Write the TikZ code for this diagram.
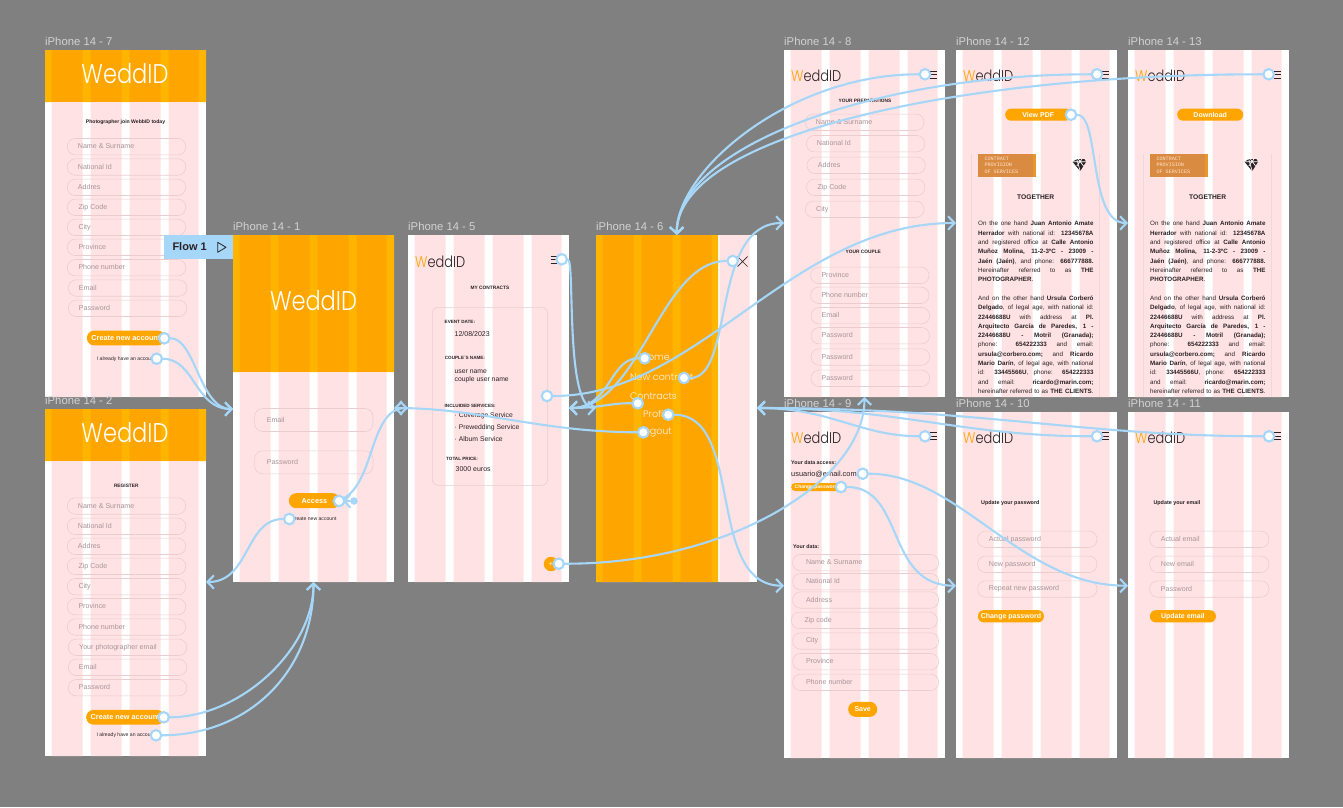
\documentclass[tikz,border=0pt]{standalone}
\usepackage{fontspec}
\usetikzlibrary{arrows.meta}
\newfontfamily\ui{Liberation Sans}
\newfontfamily\cmono{Liberation Mono}
\newfontfamily\logof{Poppins Light}
\definecolor{bgg}{HTML}{808080}
\definecolor{pinkc}{HTML}{FFE3E4}
\definecolor{orangec}{HTML}{FFA500}
\definecolor{orangel}{HTML}{FFB400}
\definecolor{flowblue}{HTML}{A6D6F8}
\definecolor{fieldline}{HTML}{EBCDD0}
\definecolor{fieldtxt}{HTML}{A8949A}
\definecolor{inkc}{HTML}{2A2226}
\definecolor{framelbl}{HTML}{D2D2D2}
\definecolor{stampc}{HTML}{DA8B42}
\pgfdeclarelayer{fg}
\pgfsetlayers{main,fg}
\newcounter{nd}
\tikzset{
  conn/.style={draw=flowblue,line width=2.1pt,line cap=round,-{Straight Barb[length=6.5pt,width=13.5pt,line width=2.1pt]}},
  hotspot/.style={circle,draw=flowblue,fill=white,line width=2.1pt,minimum size=10.5pt,inner sep=0pt},
  fieldbox/.style={draw=fieldline,line width=.6pt,rounded corners=8pt,inner sep=0pt,anchor=west},
  plainlabel/.style={inner sep=0pt,anchor=west,text=inkc}
}
% text node with vertically centred strut
\newcommand{\vcen}{\vrule width 0pt height .62em depth .1em\relax}
\newcommand{\txt}[5][]{\stepcounter{nd}\node[plainlabel,#1] (n\arabic{nd}) at (#2,#3) {\ui\fontsize{#4}{#4}\selectfont\vcen #5};}
\newcommand{\phone}[5]{%
  \begin{scope}[shift={(#1,#2)}]
    \fill[white] (0,0) rectangle (161,#3);
    \fill[pinkc] (6.7,0) rectangle (37.7,#3) (45.7,0) rectangle (76.7,#3) (84.7,0) rectangle (115.7,#3) (123.7,0) rectangle (153.7,#3);
  \end{scope}
  \txt[text=framelbl]{#1}{#2-8}{#4}{#5}}
\newcommand{\band}[4]{%
  \begin{scope}[shift={(#1,#2)}]
    \begin{scope}
      \clip (0,0) rectangle (#4,#3);
      \fill[orangec] (0,0) rectangle (#4,#3);
      \fill[orangel] (0,0) rectangle (6.7,#3) (37.7,0) rectangle (45.7,#3) (76.7,0) rectangle (84.7,#3) (115.7,0) rectangle (123.7,#3) (153.7,0) rectangle (161,#3);
    \end{scope}
  \end{scope}}
\newcommand{\fld}[6][16.4pt]{\stepcounter{nd}\node[fieldbox,minimum width=#4pt,minimum height=#1] (n\arabic{nd}) at (#2,#3) {};
  \txt[text=fieldtxt]{#2+#5}{#3}{7.1}{#6}}
\newcommand{\btn}[6]{\stepcounter{nd}\node[fill=orangec,rounded corners=.49*#4pt,minimum width=#3pt,minimum height=#4pt,inner sep=0pt,anchor=west,text=white] (n\arabic{nd}) at (#1,#2) {\ui\bfseries\fontsize{#5}{#5}\selectfont #6};}
\newcommand{\logoS}[2]{\stepcounter{nd}\node[inner sep=0pt,anchor=west,text=inkc] (n\arabic{nd}) at (#1,#2) {\resizebox{50pt}{11.5pt}{\logof\textcolor{orangec}{W}eddID}};}
\newcommand{\logoL}[2]{\stepcounter{nd}\node[inner sep=0pt,text=white] (n\arabic{nd}) at (#1,#2) {\resizebox{87pt}{20pt}{\logof WeddID}};}
\newcommand{\burger}[3]{\draw[inkc,line width=.8pt] (#1,#3-3.5) -- (#1+#2,#3-3.5) (#1,#3) -- (#1+#2,#3) (#1,#3+3.5) -- (#1+#2,#3+3.5);}
\newcommand{\jl}[1]{\hbox to 115.3pt{#1}}
\newcommand{\contract}[1]{%
  \draw[fieldline!60!pinkc,line width=.5pt] (#1-6.7,154) -- (#1-6.7,397) (#1+121.3,154) -- (#1+121.3,397);
  \fill[stampc] (#1,154.3) rectangle (#1+57.7,176.7);
  \fill[orangel,opacity=.35] (#1+54.5,154.3) rectangle (#1+57.7,176.7);
  \txt[text=white!80!orange]{#1+6.3}{158.7}{5.1}{\cmono CONTRACT}
  \txt[text=white!80!orange]{#1+6.3}{165.2}{5.1}{\cmono PROVISION}
  \txt[text=white!80!orange]{#1+6.3}{171.7}{5.1}{\cmono OF SERVICES}
  \begin{scope}[shift={(#1+101.3,164.3)},scale=.85]
    \fill[inkc] (-8,-3) -- (-3,-6) -- (6,-6) -- (8,-3) -- (1,8) -- cycle;
    \draw[white,line width=.7pt] (-8,-3) -- (8,-3) (-3,-6) -- (1,8) (3,-6) -- (-3,2) (-1,-6) -- (5,2);
  \end{scope}
  \txt[anchor=center]{#1+57.7}{197.3}{6.7}{\bfseries TOGETHER}
  \stepcounter{nd}
  \node[inner sep=0pt,anchor=base west,text=inkc] (n\arabic{nd}) at (#1,225.7) {\ui\fontsize{6.25}{9.33}\selectfont\hfuzz=20pt\hbadness=10000
  \vtop{\hsize=115.3pt\baselineskip=9.33pt\lineskiplimit=-5pt
  \jl{On the one hand \textbf{Juan Antonio Amate}}
  \jl{\textbf{Herrador} with national id: \textbf{12345678A}}
  \jl{and registered office at \textbf{Calle Antonio}}
  \jl{\textbf{Muñoz Molina, 11-2-3ºC - 23009 -}}
  \jl{\textbf{Jaén (Jaén)}, and phone: \textbf{666777888.}}
  \jl{Hereinafter referred to as \textbf{THE}}
  \hbox{\textbf{PHOTOGRAPHER}.}
  \hbox{\strut}
  \jl{And on the other hand \textbf{Ursula Corberó}}
  \jl{\textbf{Delgado}, of legal age, with national id:}
  \jl{\textbf{22446688U} with address at \textbf{Pl.}}
  \jl{\textbf{Arquitecto García de Paredes, 1 -}}
  \jl{\textbf{22446688U - Motril (Granada);}}
  \jl{phone: \textbf{654222333} and email:}
  \jl{\textbf{ursula@corbero.com;} and \textbf{Ricardo}}
  \jl{\textbf{Mario Darín}, of legal age, with national}
  \jl{id: \textbf{33445566U}, phone: \textbf{654222333}}
  \jl{and email: \textbf{ricardo@marin.com;}}
  \jl{hereinafter referred to as \textbf{THE CLIENTS}.}
  }};}
\begin{document}
\begin{tikzpicture}[x=1pt,y=-1pt]
\useasboundingbox (0,0) rectangle (1343,807);
\fill[bgg] (0,0) rectangle (1343,807);
% ---------- frames
\phone{45}{50}{347}{11.3}{iPhone 14 - 7}
\phone{233}{235}{347}{11.3}{iPhone 14 - 1}
\phone{45}{409}{347}{11.3}{iPhone 14 - 2}
\phone{408}{235}{347}{11.3}{iPhone 14 - 5}
\phone{596}{235}{347}{11.3}{iPhone 14 - 6}
\phone{784}{50}{347}{11.3}{iPhone 14 - 8}
\phone{956}{50}{347}{11.3}{iPhone 14 - 12}
\phone{1128}{50}{347}{11.3}{iPhone 14 - 13}
\phone{784}{412}{346}{11.3}{iPhone 14 - 9}
\phone{956}{412}{346}{11.3}{iPhone 14 - 10}
\phone{1128}{412}{346}{11.3}{iPhone 14 - 11}
\band{45}{50}{52}{161}
\band{233}{235}{137}{161}
\band{45}{409}{52}{161}
\band{596}{235}{347}{122}
% ---------- F7
\logoL{125}{73.5}
\txt[anchor=center]{125.5}{121.7}{5.1}{\bfseries Photographer join WebbID today}
\fld{67}{146.7}{118.5}{10.7}{Name \& Surname}
\fld{67}{167}{118.5}{10.7}{National Id}
\fld{67}{187.3}{118.5}{10.7}{Addres}
\fld{67}{207.3}{118.5}{11.3}{Zip Code}
\fld{67}{227.3}{118.5}{11.3}{City}
\fld{67}{247.3}{118.5}{11.3}{Province}
\fld{67}{267.7}{118.5}{11.3}{Phone number}
\fld{68}{288}{118.5}{10.7}{Email}
\fld{68}{308.3}{118.5}{10.7}{Password}
\btn{86.7}{338}{78}{14.7}{7.3}{Create new account}
\txt{96.7}{359}{5.1}{I already have an account}
% ---------- Flow tag
\fill[flowblue] (164.3,235) rectangle (233,259);
\txt{172.3}{247}{11}{\bfseries Flow 1}
\draw[inkc,line width=.8pt,line join=round] (217.7,242.3) -- (226,247.3) -- (217.7,252.3) -- cycle;
% ---------- F1
\logoL{313.5}{301}
\fld[23pt]{254.3}{420}{118.4}{12.3}{Email}
\fld[23pt]{254.3}{462.3}{118.4}{12.3}{Password}
\btn{288.7}{500.7}{51}{15}{7.3}{Access}
\txt[anchor=east]{336.7}{519.3}{5.1}{Create new account}
% ---------- F2
\logoL{125}{432.7}
\txt[anchor=center]{126.3}{485.7}{4.8}{\bfseries REGISTER}
\fld{67}{506}{118.5}{10.7}{Name \& Surname}
\fld{67}{526.3}{118.5}{10.7}{National Id}
\fld{67}{546.3}{118.5}{10.7}{Addres}
\fld{67}{566.3}{118.5}{11.3}{Zip Code}
\fld{67}{586.7}{118.5}{11.3}{City}
\fld{67}{606.7}{118.5}{11.3}{Province}
\fld{67}{627}{118.5}{11.3}{Phone number}
\fld{68}{647.3}{118.5}{11}{Your photographer email}
\fld{68}{667.3}{118.5}{10.7}{Email}
\fld{68}{687.7}{118.5}{10.7}{Password}
\btn{86}{717.3}{78}{14.7}{7.3}{Create new account}
\txt{96.3}{735.3}{5.1}{I already have an account}
% ---------- F5
\logoS{415}{261.7}
\burger{550.7}{8}{259.5}
\txt[anchor=center]{490}{288.3}{4.8}{\bfseries MY CONTRACTS}
\node[draw=fieldline,line width=.6pt,rounded corners=6pt,minimum width=115.4pt,minimum height=178pt,inner sep=0pt] (card) at (490,396.3) {};
\txt{444.5}{321.7}{4.6}{\bfseries EVENT DATE:}
\txt{454.5}{334}{7}{12/08/2023}
\txt{444.7}{357.7}{4.6}{\bfseries COUPLE´S NAME:}
\txt{454.5}{372}{6.8}{user name}
\txt{454.5}{379.7}{6.8}{couple user name}
\txt{444.5}{405.7}{4.6}{\bfseries INCLUIDED SERVICES:}
\txt{454.5}{415.3}{6.8}{· Coverage Service}
\txt{454.5}{427.3}{6.8}{· Prewedding Service}
\txt{454.5}{439.3}{6.8}{· Album Service}
\txt{446}{459}{4.6}{\bfseries TOTAL PRICE:}
\txt{455.5}{469.3}{7}{3000 euros}
\node[circle,fill=orangec,minimum size=14.5pt,inner sep=0pt,text=white] (plusb) at (551,564) {\ui\fontsize{7}{7}\selectfont +};
% ---------- F6
\node[inner sep=0pt,anchor=east,text=white!92!orange] (mHome) at (670,357.7) {\logof\fontsize{9.5}{9.5}\selectfont Home};
\node[inner sep=0pt,anchor=west,text=white!92!orange] (mNew) at (630,377.7) {\logof\fontsize{9.5}{9.5}\selectfont New contract};
\node[inner sep=0pt,anchor=east,text=white!92!orange] (mCon) at (677,396) {\logof\fontsize{9.5}{9.5}\selectfont Contracts};
\node[inner sep=0pt,anchor=west,text=white!92!orange] (mPro) at (643,414) {\logof\fontsize{9.5}{9.5}\selectfont Profile};
\node[inner sep=0pt,anchor=east,text=white!92!orange] (mLog) at (672,432.3) {\logof\fontsize{9.5}{9.5}\selectfont Logout};
\draw[inkc,line width=.7pt] (737.5,256.5) -- (747.5,266.5) (747.5,256.5) -- (737.5,266.5);
% ---------- F8
\logoS{791}{75.7}
\burger{929.5}{7}{74.4}
\txt[anchor=center]{865}{101}{4.8}{\bfseries YOUR PREPARATIONS}
\fld{805}{122.3}{118.7}{10.7}{Name \& Surname}
\fld{806}{143.7}{118.5}{10.7}{National Id}
\fld{806.7}{165.3}{118.3}{11}{Addres}
\fld{806.3}{187.3}{118.4}{11}{Zip Code}
\fld{805}{209.3}{118.7}{11}{City}
\txt[anchor=center]{863.3}{251.7}{4.8}{\bfseries YOUR COUPLE}
\fld{810.3}{275.3}{118.4}{11}{Province}
\fld{810.3}{295.3}{118.4}{11}{Phone number}
\fld{810.7}{315.7}{118.6}{10.7}{Email}
\fld{810.7}{335.7}{118.6}{10.7}{Password}
\fld{810.7}{357}{118.6}{10.7}{Password}
\fld{810.7}{378.3}{118.6}{10.7}{Password}
% ---------- F12, F13
\logoS{963}{75.7}
\burger{1101.5}{7}{74.4}
\btn{1005}{114.7}{66}{12}{7}{View PDF}
\contract{978}
\logoS{1135}{75.7}
\burger{1273.5}{7}{74.4}
\btn{1177}{114.7}{66}{12}{7}{Download}
\contract{1150}
% ---------- F9
\logoS{791}{437.7}
\burger{929.5}{7}{436.3}
\txt{791}{463}{5.3}{\bfseries Your data access:}
\txt{791}{474.3}{7.4}{usuario@email.com}
\btn{791}{487}{52}{8}{5}{\hspace*{-2pt}Change password}
\txt{793}{547.3}{5.3}{\bfseries Your data:}
\fld{792.3}{562.7}{146}{13.5}{Name \& Surname}
\fld{792.3}{581.7}{146}{13.5}{National Id}
\fld{792.3}{600}{146}{13.5}{Address}
\fld{791}{620.3}{146}{13.3}{Zip code}
\fld{792.3}{641}{146}{13.5}{City}
\fld{792.3}{661.7}{146}{13.5}{Province}
\fld{792.3}{682.3}{146}{13.5}{Phone number}
\btn{848}{709.3}{29}{15}{7}{Save}
% ---------- F10
\logoS{963}{437.7}
\burger{1101.5}{7}{436.3}
\txt{981}{503}{5.4}{\bfseries Update your password}
\fld{977.3}{539.3}{119.4}{11.4}{Actual password}
\fld{977.3}{564.3}{119.4}{11.4}{New password}
\fld{977.3}{589}{119.4}{11.4}{Repeat new password}
\btn{977.7}{616.3}{66}{12.3}{7}{Change password}
% ---------- F11
\logoS{1135}{437.7}
\burger{1273.5}{7}{436.3}
\txt{1153.3}{503}{5.4}{\bfseries Update your email}
\fld{1149.3}{539.3}{119.4}{11.4}{Actual email}
\fld{1149.3}{564.3}{119.4}{11.4}{New email}
\fld{1149.3}{589}{119.4}{11.4}{Password}
\btn{1149.7}{616.3}{66}{12.3}{7}{Update email}
% ---------- targets
\coordinate (f1L) at (233,409);
\coordinate (f1B) at (313.5,582);
\coordinate (f1R) at (394,408);
\coordinate (f2R) at (206,582);
\coordinate (f5L) at (408,408);
\coordinate (f5R) at (569,408);
\coordinate (f6L) at (596,408);
\coordinate (f6T) at (676.7,235);
\coordinate (f6R) at (757,408);
\coordinate (f8L) at (784,223);
\coordinate (f8B) at (864.5,397);
\coordinate (f12L) at (956,223);
\coordinate (f13L) at (1128,223);
\coordinate (f9L) at (784,585.7);
\coordinate (f10L) at (956,585.7);
\coordinate (f11L) at (1128,585.7);
\coordinate (accTip) at (342.5,501);
% ---------- hotspots (above connectors)
\begin{pgfonlayer}{fg}
\node[hotspot] (h7a) at (164.3,338.3) {};
\node[hotspot] (h7b) at (156.7,358.7) {};
\node[hotspot] (h2a) at (163.7,717.3) {};
\node[hotspot] (h2b) at (156,735.3) {};
\node[hotspot] (h1a) at (339,501) {};
\node[hotspot] (h1b) at (289.3,519) {};
\node[hotspot] (h5m) at (561.7,259.3) {};
\node[hotspot] (h5c) at (547,396) {};
\node[hotspot] (h5p) at (558.7,563.7) {};
\node[hotspot] (h6x) at (732.7,261) {};
\node[hotspot] (h6h) at (644.7,358.3) {};
\node[hotspot] (h6n) at (684,378) {};
\node[hotspot] (h6c) at (637.7,403.3) {};
\node[hotspot] (h6p) at (668.3,414.7) {};
\node[hotspot] (h6l) at (643.3,432.3) {};
\node[hotspot] (h8) at (925,74.3) {};
\node[hotspot] (h12) at (1097,74.3) {};
\node[hotspot] (h13) at (1268.7,74.3) {};
\node[hotspot] (h12v) at (1071,114.7) {};
\node[hotspot] (h9) at (925,436.3) {};
\node[hotspot] (h10) at (1097,436.3) {};
\node[hotspot] (h11) at (1269,436.3) {};
\node[hotspot] (h9e) at (862.7,473.7) {};
\node[hotspot] (h9c) at (841,487) {};
\end{pgfonlayer}
\node[circle,fill=flowblue,minimum size=7.5pt,inner sep=0pt] (accdot) at (354,501) {};
% ---------- connectors
\draw[conn] (h7a) .. controls (195,338) and (200,409) .. (f1L);
\draw[conn] (h7b) .. controls (195,359) and (195,409) .. (f1L);
\draw[conn] (h2a) .. controls (240,717) and (313.5,650) .. (f1B);
\draw[conn] (h2b) .. controls (250,735) and (313.5,670) .. (f1B);
\draw[conn] (h1b) .. controls (245,519) and (250,582) .. (f2R);
\draw[conn] (h1a) .. controls (375,480) and (370,408) .. (f5L);
\draw[conn] (accdot) -- (accTip);
\draw[conn] (h6l) .. controls (540,432) and (480,408) .. (f1R);
\draw[conn] (h5m) .. controls (575,260) and (565,408) .. (f6L);
\draw[conn] (h6h) .. controls (610,358) and (610,408) .. (f5R);
\draw[conn] (h6x) .. controls (660,261) and (640,408) .. (f5R);
\draw[conn] (h6c) .. controls (610,403) and (600,408) .. (f5R);
\draw[conn] (h6n) .. controls (735,378) and (710,223) .. (f8L);
\draw[conn] (h5c) .. controls (700,396) and (790,223) .. (f12L);
\draw[conn] (h5p) .. controls (730,564) and (864.5,480) .. (f8B);
\draw[conn] (h6p) .. controls (745,415) and (705,585.7) .. (f9L);
\draw[conn] (h8) .. controls (790,74) and (676.7,170) .. (f6T);
\draw[conn] (h12) .. controls (880,74) and (676.7,145) .. (f6T);
\draw[conn] (h13) .. controls (960,74) and (676.7,135) .. (f6T);
\draw[conn] (h9) .. controls (860,436) and (830,408) .. (f6R);
\draw[conn] (h10) .. controls (960,436) and (900,408) .. (f6R);
\draw[conn] (h11) .. controls (1080,436) and (980,408) .. (f6R);
\draw[conn] (h12v) .. controls (1100,115) and (1088,223) .. (f13L);
\draw[conn] (h9e) .. controls (960,474) and (1020,585.7) .. (f11L);
\draw[conn] (h9c) .. controls (905,487) and (885,585.7) .. (f10L);
\end{tikzpicture}
\end{document}
